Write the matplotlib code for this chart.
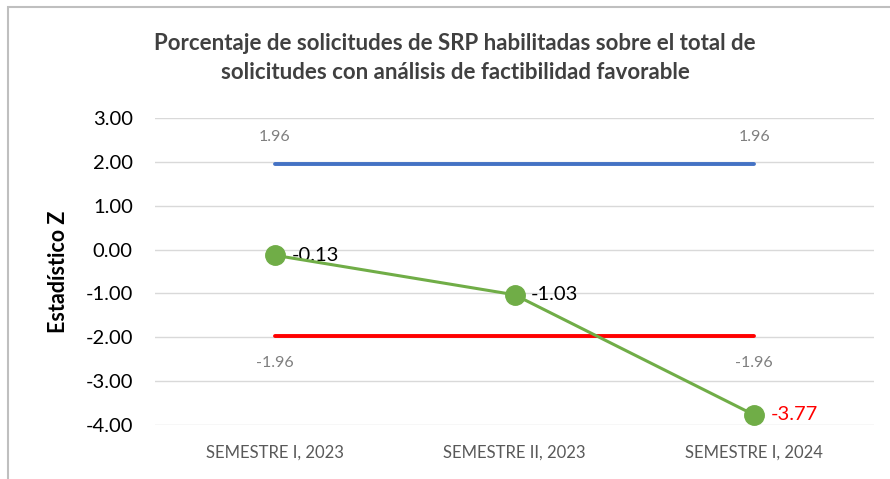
import matplotlib

matplotlib.use("Agg")
import matplotlib.pyplot as plt
from matplotlib.patches import Rectangle

# data
CATEGORIES = ["SEMESTRE I, 2023", "SEMESTRE II, 2023", "SEMESTRE I, 2024"]
Z_VALUES = [-0.13, -1.03, -3.77]
UPPER_LIMIT = [1.96, 1.96, 1.96]
LOWER_LIMIT = [-1.96, -1.96, -1.96]
Y_TICKS = [3, 2, 1, 0, -1, -2, -3, -4]

TITLE = ("Porcentaje de solicitudes de SRP habilitadas sobre el total de\n"
         "solicitudes con análisis de factibilidad favorable")

GREEN = "#70AD47"
BLUE = "#4472C4"
RED = "#FF0000"
GRID = "#D9D9D9"
TEXT_GRAY = "#595959"
LABEL_GRAY = "#7F7F7F"

plt.rcParams["font.family"] = ["Lato", "DejaVu Sans"]

W, H = 890, 479
fig = plt.figure(figsize=(W / 100, H / 100), dpi=100)
ax = fig.add_axes([155 / W, 1 - 425 / H, (874 - 155) / W, (425 - 118) / H])

x = list(range(len(CATEGORIES)))

ax.plot(x, UPPER_LIMIT, color=BLUE, linewidth=2.8, solid_capstyle="round", zorder=3)
ax.plot(x, LOWER_LIMIT, color=RED, linewidth=2.8, solid_capstyle="round", zorder=3)
ax.plot(x, Z_VALUES, color=GREEN, linewidth=2.2, marker="o", markersize=14,
        markerfacecolor=GREEN, markeredgecolor=GREEN, zorder=4)

for xi, v in zip(x, UPPER_LIMIT):
    if xi == 1:
        continue
    ax.annotate(f"{v:.2f}", (xi, v), xytext=(0, 19), textcoords="offset points",
                ha="center", va="center", fontsize=11.5, color=LABEL_GRAY)
for xi, v in zip(x, LOWER_LIMIT):
    if xi == 1:
        continue
    ax.annotate(f"{v:.2f}", (xi, v), xytext=(0, -20), textcoords="offset points",
                ha="center", va="center", fontsize=11.5, color=LABEL_GRAY)

for xi, v in zip(x, Z_VALUES):
    color = RED if v < -1.96 else "black"
    ax.annotate(f"{v:.2f}", (xi, v), xytext=(12, 0), textcoords="offset points",
                ha="left", va="center", fontsize=14.5, color=color)

ax.set_xlim(-0.5, 2.5)
ax.set_ylim(-4, 3)
ax.set_yticks(Y_TICKS)
ax.set_yticklabels([f"{t:.2f}" for t in Y_TICKS], fontsize=14.5, color="black")
ax.set_xticks(x)
ax.set_xticklabels(CATEGORIES, fontsize=12, color=TEXT_GRAY)
ax.tick_params(axis="both", length=0)
ax.tick_params(axis="y", pad=16)
ax.tick_params(axis="x", pad=14)
ax.grid(True, axis="y", color=GRID, linewidth=1.0, zorder=0)
ax.set_axisbelow(True)
for spine in ax.spines.values():
    spine.set_visible(False)

ax.set_ylabel("Estadístico Z", fontsize=15.5, fontweight="bold", labelpad=12)

fig.text(455 / W, 1 - 58 / H, TITLE, ha="center", va="center", fontsize=16,
         fontweight="bold", color="#404040", linespacing=1.45)

fig.patches.append(Rectangle((8 / W, -0.1), 1.2, 1 - 7 / H + 0.1, transform=fig.transFigure,
                             fill=False, edgecolor="#BFBFBF", linewidth=1.5))

fig.savefig("out.png", dpi=100)
